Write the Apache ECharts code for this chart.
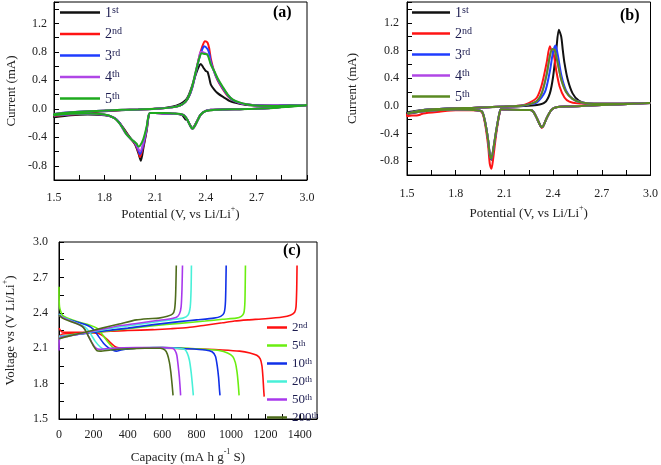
<!DOCTYPE html>
<html><head><meta charset="utf-8">
<script src="https://cdn.jsdelivr.net/npm/echarts@6/dist/echarts.min.js"></script>
<style>html,body{margin:0;padding:0;background:#fff}#c{width:661px;height:465px}</style>
</head><body><div id="c"></div>
<script>
// ---------- Panel (a): CV, cycles 1-5 ([potential V, current mA], cathodic sweep then anodic sweep)
const a1 = [[3.0,0.05],[2.9,0.04],[2.8,0.02],[2.7,0.0],[2.6,-0.005],[2.5,-0.01],[2.43,-0.02],[2.4,-0.03],[2.37,-0.08],[2.35,-0.16],[2.33,-0.25],[2.32,-0.27],[2.31,-0.24],[2.29,-0.16],[2.28,-0.15],[2.26,-0.09],[2.22,-0.07],[2.15,-0.065],[2.1,-0.06],[2.07,-0.06],[2.06,-0.12],[2.05,-0.3],[2.03,-0.55],[2.015,-0.73],[2.0,-0.62],[1.98,-0.5],[1.95,-0.4],[1.92,-0.3],[1.89,-0.2],[1.86,-0.13],[1.8,-0.09],[1.7,-0.08],[1.6,-0.09],[1.5,-0.12],
            [1.5,-0.1],[1.6,-0.07],[1.7,-0.05],[1.8,-0.035],[1.9,-0.02],[2.0,-0.01],[2.1,0.0],[2.2,0.03],[2.25,0.07],[2.28,0.12],[2.3,0.2],[2.32,0.33],[2.34,0.48],[2.36,0.6],[2.37,0.63],[2.385,0.58],[2.4,0.53],[2.41,0.52],[2.42,0.44],[2.43,0.34],[2.45,0.27],[2.47,0.22],[2.5,0.17],[2.55,0.1],[2.6,0.07],[2.66,0.05],[2.8,0.04],[2.9,0.045],[3.0,0.05]];
const a2 = [[3.0,0.05],[2.9,0.035],[2.8,0.015],[2.7,0.0],[2.6,-0.005],[2.5,-0.01],[2.43,-0.015],[2.4,-0.03],[2.37,-0.08],[2.35,-0.17],[2.33,-0.26],[2.32,-0.28],[2.31,-0.25],[2.29,-0.15],[2.27,-0.09],[2.22,-0.07],[2.15,-0.065],[2.1,-0.06],[2.07,-0.06],[2.06,-0.11],[2.05,-0.28],[2.03,-0.52],[2.01,-0.68],[2.0,-0.6],[1.98,-0.49],[1.95,-0.41],[1.92,-0.31],[1.89,-0.2],[1.86,-0.13],[1.8,-0.085],[1.7,-0.07],[1.6,-0.08],[1.5,-0.1],
            [1.5,-0.08],[1.6,-0.055],[1.7,-0.04],[1.8,-0.028],[1.9,-0.018],[2.0,-0.01],[2.1,0.0],[2.2,0.02],[2.25,0.05],[2.28,0.1],[2.3,0.17],[2.32,0.3],[2.34,0.5],[2.36,0.72],[2.38,0.88],[2.395,0.95],[2.41,0.93],[2.42,0.85],[2.43,0.7],[2.45,0.52],[2.47,0.4],[2.5,0.28],[2.53,0.18],[2.56,0.12],[2.6,0.08],[2.65,0.06],[2.7,0.05],[2.8,0.045],[2.9,0.05],[3.0,0.055]];
const a3 = [[3.0,0.05],[2.9,0.035],[2.8,0.015],[2.7,0.0],[2.6,-0.005],[2.5,-0.01],[2.43,-0.015],[2.4,-0.03],[2.37,-0.08],[2.35,-0.17],[2.33,-0.26],[2.32,-0.28],[2.31,-0.25],[2.29,-0.15],[2.27,-0.09],[2.22,-0.07],[2.15,-0.065],[2.1,-0.06],[2.07,-0.06],[2.06,-0.11],[2.05,-0.27],[2.03,-0.5],[2.01,-0.64],[2.0,-0.58],[1.98,-0.48],[1.95,-0.41],[1.92,-0.32],[1.89,-0.2],[1.86,-0.13],[1.8,-0.085],[1.7,-0.07],[1.6,-0.075],[1.5,-0.095],
            [1.5,-0.075],[1.6,-0.05],[1.7,-0.037],[1.8,-0.026],[1.9,-0.016],[2.0,-0.01],[2.1,0.0],[2.2,0.02],[2.25,0.05],[2.28,0.1],[2.3,0.17],[2.32,0.3],[2.34,0.5],[2.36,0.7],[2.38,0.84],[2.39,0.88],[2.41,0.84],[2.42,0.78],[2.43,0.66],[2.45,0.52],[2.47,0.41],[2.5,0.29],[2.53,0.19],[2.56,0.12],[2.6,0.08],[2.65,0.06],[2.7,0.05],[2.8,0.045],[2.9,0.05],[3.0,0.055]];
const a4 = [[3.0,0.05],[2.9,0.035],[2.8,0.015],[2.7,0.0],[2.6,-0.005],[2.5,-0.01],[2.43,-0.015],[2.4,-0.03],[2.37,-0.08],[2.35,-0.17],[2.33,-0.26],[2.32,-0.28],[2.31,-0.25],[2.29,-0.15],[2.27,-0.09],[2.22,-0.07],[2.15,-0.065],[2.1,-0.06],[2.07,-0.06],[2.06,-0.1],[2.05,-0.26],[2.03,-0.47],[2.01,-0.6],[2.0,-0.56],[1.98,-0.47],[1.95,-0.41],[1.92,-0.33],[1.89,-0.21],[1.86,-0.13],[1.8,-0.085],[1.7,-0.068],[1.6,-0.072],[1.5,-0.09],
            [1.5,-0.072],[1.6,-0.05],[1.7,-0.036],[1.8,-0.025],[1.9,-0.015],[2.0,-0.01],[2.1,0.0],[2.2,0.02],[2.25,0.05],[2.28,0.1],[2.3,0.18],[2.32,0.32],[2.34,0.52],[2.36,0.72],[2.37,0.8],[2.39,0.79],[2.41,0.76],[2.42,0.72],[2.43,0.63],[2.45,0.52],[2.47,0.42],[2.5,0.3],[2.53,0.2],[2.56,0.13],[2.6,0.085],[2.65,0.06],[2.7,0.048],[2.8,0.043],[2.9,0.047],[3.0,0.052]];
const a5 = [[3.0,0.05],[2.9,0.03],[2.8,0.01],[2.7,0.0],[2.6,-0.005],[2.5,-0.01],[2.45,-0.015],[2.4,-0.03],[2.37,-0.08],[2.35,-0.17],[2.33,-0.26],[2.32,-0.28],[2.31,-0.25],[2.29,-0.15],[2.27,-0.09],[2.24,-0.07],[2.2,-0.065],[2.15,-0.06],[2.1,-0.06],[2.07,-0.06],[2.06,-0.1],[2.05,-0.24],[2.03,-0.42],[2.01,-0.52],[2.0,-0.53],[1.99,-0.49],[1.96,-0.43],[1.93,-0.36],[1.91,-0.28],[1.88,-0.18],[1.85,-0.12],[1.8,-0.08],[1.7,-0.065],[1.6,-0.07],[1.5,-0.09],
            [1.5,-0.07],[1.6,-0.05],[1.7,-0.035],[1.8,-0.025],[1.9,-0.015],[2.0,-0.01],[2.1,0.0],[2.2,0.02],[2.25,0.05],[2.28,0.1],[2.3,0.18],[2.32,0.32],[2.34,0.52],[2.36,0.7],[2.375,0.78],[2.39,0.77],[2.41,0.76],[2.43,0.62],[2.45,0.53],[2.47,0.43],[2.5,0.31],[2.53,0.2],[2.56,0.13],[2.6,0.09],[2.65,0.06],[2.7,0.045],[2.8,0.04],[2.9,0.045],[3.0,0.05]];

// ---------- Panel (b): CV, cycles 1-5
const b1 = [[3.0,0.04],[2.8,0.02],[2.6,0.0],[2.5,-0.01],[2.42,-0.02],[2.39,-0.06],[2.36,-0.18],[2.34,-0.29],[2.33,-0.31],[2.32,-0.28],[2.3,-0.18],[2.28,-0.09],[2.26,-0.06],[2.2,-0.06],[2.12,-0.055],[2.08,-0.05],[2.07,-0.1],[2.05,-0.36],[2.03,-0.66],[2.02,-0.78],[2.01,-0.72],[2.0,-0.5],[1.98,-0.22],[1.96,-0.08],[1.9,-0.06],[1.8,-0.055],[1.7,-0.06],[1.6,-0.08],[1.5,-0.12],
            [1.5,-0.1],[1.6,-0.06],[1.7,-0.045],[1.8,-0.035],[1.9,-0.03],[2.0,-0.02],[2.1,-0.012],[2.2,-0.005],[2.3,0.01],[2.35,0.05],[2.38,0.18],[2.4,0.42],[2.42,0.82],[2.435,1.1],[2.45,1.0],[2.46,0.8],[2.47,0.62],[2.49,0.38],[2.52,0.18],[2.56,0.07],[2.62,0.03],[2.8,0.03],[3.0,0.04]];
const b2 = [[3.0,0.04],[2.8,0.02],[2.6,0.0],[2.5,-0.01],[2.42,-0.02],[2.39,-0.06],[2.36,-0.18],[2.34,-0.29],[2.33,-0.32],[2.32,-0.28],[2.3,-0.18],[2.28,-0.09],[2.26,-0.06],[2.2,-0.06],[2.12,-0.055],[2.08,-0.05],[2.07,-0.11],[2.05,-0.4],[2.03,-0.78],[2.02,-0.91],[2.01,-0.84],[2.0,-0.58],[1.98,-0.25],[1.96,-0.09],[1.9,-0.065],[1.8,-0.065],[1.7,-0.085],[1.6,-0.11],[1.58,-0.13],[1.56,-0.14],[1.53,-0.14],[1.5,-0.15],
            [1.5,-0.12],[1.6,-0.075],[1.7,-0.055],[1.8,-0.04],[1.9,-0.03],[2.0,-0.02],[2.1,-0.01],[2.2,0.005],[2.25,0.04],[2.3,0.12],[2.33,0.3],[2.36,0.62],[2.38,0.86],[2.39,0.8],[2.4,0.78],[2.41,0.66],[2.42,0.5],[2.44,0.28],[2.47,0.12],[2.5,0.06],[2.55,0.035],[2.65,0.03],[2.8,0.03],[3.0,0.04]];
const b3 = [[3.0,0.04],[2.8,0.02],[2.6,0.0],[2.5,-0.01],[2.42,-0.02],[2.39,-0.06],[2.36,-0.18],[2.34,-0.29],[2.33,-0.31],[2.32,-0.28],[2.3,-0.18],[2.28,-0.09],[2.26,-0.06],[2.2,-0.06],[2.12,-0.055],[2.08,-0.05],[2.07,-0.1],[2.05,-0.36],[2.03,-0.66],[2.02,-0.77],[2.01,-0.71],[2.0,-0.5],[1.98,-0.22],[1.96,-0.08],[1.9,-0.06],[1.8,-0.055],[1.7,-0.06],[1.6,-0.08],[1.5,-0.11],
            [1.5,-0.1],[1.6,-0.06],[1.7,-0.045],[1.8,-0.035],[1.9,-0.03],[2.0,-0.02],[2.1,-0.01],[2.2,0.0],[2.25,0.02],[2.3,0.05],[2.35,0.2],[2.38,0.5],[2.4,0.78],[2.415,0.87],[2.43,0.72],[2.45,0.45],[2.48,0.22],[2.52,0.1],[2.57,0.05],[2.65,0.03],[2.8,0.03],[3.0,0.04]];
const b4 = [[3.0,0.04],[2.8,0.02],[2.6,0.0],[2.5,-0.01],[2.42,-0.02],[2.39,-0.06],[2.36,-0.18],[2.34,-0.29],[2.33,-0.31],[2.32,-0.28],[2.3,-0.18],[2.28,-0.09],[2.26,-0.06],[2.2,-0.06],[2.12,-0.055],[2.08,-0.05],[2.07,-0.1],[2.05,-0.35],[2.03,-0.65],[2.02,-0.76],[2.01,-0.7],[2.0,-0.5],[1.98,-0.22],[1.96,-0.08],[1.9,-0.06],[1.8,-0.055],[1.7,-0.06],[1.6,-0.08],[1.5,-0.11],
            [1.5,-0.1],[1.6,-0.06],[1.7,-0.045],[1.8,-0.035],[1.9,-0.03],[2.0,-0.02],[2.1,-0.01],[2.2,0.0],[2.25,0.02],[2.3,0.07],[2.33,0.18],[2.36,0.45],[2.38,0.72],[2.395,0.82],[2.41,0.8],[2.43,0.6],[2.45,0.38],[2.48,0.2],[2.52,0.1],[2.57,0.05],[2.65,0.03],[2.8,0.03],[3.0,0.04]];
const b5 = [[3.0,0.04],[2.8,0.02],[2.6,0.0],[2.5,-0.01],[2.42,-0.02],[2.39,-0.06],[2.36,-0.18],[2.34,-0.29],[2.33,-0.31],[2.32,-0.28],[2.3,-0.18],[2.28,-0.09],[2.26,-0.06],[2.2,-0.06],[2.12,-0.055],[2.08,-0.05],[2.07,-0.1],[2.05,-0.35],[2.03,-0.65],[2.02,-0.76],[2.01,-0.7],[2.0,-0.5],[1.98,-0.22],[1.96,-0.08],[1.9,-0.06],[1.8,-0.055],[1.7,-0.06],[1.6,-0.08],[1.5,-0.11],
            [1.5,-0.1],[1.6,-0.06],[1.7,-0.045],[1.8,-0.035],[1.9,-0.03],[2.0,-0.02],[2.1,-0.01],[2.2,0.0],[2.25,0.02],[2.3,0.07],[2.33,0.18],[2.36,0.45],[2.38,0.72],[2.395,0.82],[2.41,0.8],[2.43,0.6],[2.45,0.38],[2.48,0.2],[2.52,0.1],[2.57,0.05],[2.65,0.03],[2.8,0.03],[3.0,0.04]];

// ---------- Panel (c): discharge / charge profiles ([capacity mAh/g, voltage V])
const c2Dis = [[0,2.27],[15,2.24],[60,2.235],[120,2.235],[180,2.232],[230,2.225],[260,2.2],[290,2.16],[320,2.12],[340,2.105],[380,2.095],[450,2.1],[600,2.1],[800,2.095],[950,2.085],[1050,2.075],[1110,2.06],[1150,2.04],[1170,2.01],[1180,1.95],[1186,1.85],[1190,1.75],[1193,1.69]];
const c2Chg = [[0,2.2],[20,2.22],[100,2.225],[200,2.235],[300,2.245],[400,2.25],[550,2.257],[650,2.265],[750,2.275],[850,2.295],[950,2.315],[1020,2.33],[1100,2.34],[1200,2.35],[1300,2.365],[1345,2.38],[1370,2.405],[1378,2.45],[1382,2.6],[1384,2.8]];
const c5Dis = [[0,2.62],[3,2.45],[20,2.38],[60,2.35],[120,2.32],[180,2.295],[220,2.27],[250,2.22],[280,2.16],[310,2.11],[330,2.095],[360,2.09],[450,2.1],[600,2.105],[750,2.1],[850,2.09],[930,2.08],[980,2.06],[1010,2.03],[1025,1.98],[1035,1.9],[1042,1.8],[1047,1.7]];
const c5Chg = [[0,2.19],[50,2.21],[150,2.225],[250,2.24],[400,2.265],[550,2.29],[700,2.31],[850,2.33],[950,2.345],[1030,2.355],[1060,2.37],[1075,2.4],[1081,2.5],[1084,2.8]];
const c10Dis = [[0,2.39],[20,2.36],[60,2.34],[120,2.315],[170,2.29],[200,2.26],[230,2.2],[260,2.14],[290,2.1],[310,2.085],[335,2.075],[360,2.085],[450,2.1],[600,2.105],[750,2.095],[850,2.085],[890,2.07],[910,2.03],[920,1.95],[928,1.85],[933,1.75],[936,1.7]];
const c10Chg = [[0,2.2],[50,2.205],[150,2.225],[250,2.245],[400,2.27],[550,2.3],[700,2.325],[800,2.34],[900,2.355],[940,2.37],[960,2.4],[968,2.5],[972,2.8]];
const c20Dis = [[0,2.39],[20,2.36],[60,2.34],[110,2.31],[150,2.28],[180,2.23],[210,2.16],[240,2.11],[265,2.09],[300,2.09],[400,2.1],[550,2.105],[680,2.1],[730,2.09],[745,2.06],[758,2.0],[768,1.9],[775,1.8],[781,1.7]];
const c20Chg = [[0,2.2],[50,2.205],[150,2.23],[250,2.255],[350,2.28],[450,2.3],[550,2.32],[650,2.34],[720,2.355],[750,2.38],[763,2.45],[768,2.6],[770,2.8]];
const c50Dis = [[0,2.38],[20,2.36],[60,2.335],[110,2.305],[140,2.28],[165,2.22],[190,2.15],[215,2.1],[235,2.09],[300,2.1],[450,2.105],[600,2.105],[660,2.1],[675,2.08],[685,2.04],[693,1.95],[700,1.85],[705,1.75],[707,1.7]];
const c50Chg = [[0,2.08],[5,2.19],[50,2.2],[150,2.23],[250,2.26],[350,2.29],[450,2.31],[550,2.33],[630,2.345],[680,2.36],[700,2.39],[710,2.45],[715,2.6],[718,2.8]];
const c200Dis = [[0,2.38],[20,2.355],[60,2.33],[100,2.31],[130,2.29],[150,2.26],[175,2.19],[200,2.12],[220,2.08],[240,2.075],[300,2.085],[400,2.095],[500,2.1],[590,2.1],[615,2.085],[630,2.05],[642,1.98],[650,1.9],[657,1.8],[663,1.7]];
const c200Chg = [[0,2.18],[50,2.2],[150,2.235],[250,2.27],[350,2.305],[450,2.34],[520,2.35],[580,2.355],[630,2.37],[660,2.39],[672,2.43],[678,2.55],[682,2.8]];

// tick labels
const cvXTicks = ['1.5','1.8','2.1','2.4','2.7','3.0'];
const cvYTicks = ['-0.8','-0.4','0.0','0.4','0.8','1.2'];
const cXTicks = ['0','200','400','600','800','1000','1200','1400'];
const cYTicks = ['1.5','1.8','2.1','2.4','2.7','3.0'];

// legend labels (ordinal, superscript)
const cycA = [['1','st'],['2','nd'],['3','rd'],['4','th'],['5','th']];
const cycC = [['2','nd'],['5','th'],['10','th'],['20','th'],['50','th'],['200','th']];

const colA = ['#111111','#ff1414','#1f3cff','#b046e6','#1eaa1e'];
const colB = ['#111111','#ff1414','#1f3cff','#b046e6','#5a8a22'];
const colC = ['#ff1010','#6aee10','#1030e8','#48f0d8','#a838ec','#4e6c1c'];

const FONT = '"Liberation Serif","DejaVu Serif",serif';
const labelMap = {};
cycA.forEach((c,i)=>{ labelMap['a'+i] = '{n|'+c[0]+'}{s|'+c[1]+'}'; labelMap['b'+i] = '{n|'+c[0]+'}{s|'+c[1]+'}'; });
cycC.forEach((c,i)=>{ labelMap['c'+i] = '{n|'+c[0]+'}{s|'+c[1]+'}'; });

const richLeg = {
  n:{fontFamily:FONT,fontSize:14,color:'#1c1c50',lineHeight:15,verticalAlign:'bottom',padding:[6,0,0,0]},
  s:{fontFamily:FONT,fontSize:10,color:'#1c1c50',lineHeight:10,verticalAlign:'top'}
};
const richLegC = {
  n:{fontFamily:FONT,fontSize:13,color:'#1c1c50',lineHeight:13,verticalAlign:'bottom',padding:[5,0,0,0]},
  s:{fontFamily:FONT,fontSize:9,color:'#1c1c50',lineHeight:9,verticalAlign:'top'}
};
const richName = {
  t:{fontFamily:FONT,fontSize:13,color:'#222',lineHeight:16,verticalAlign:'bottom'},
  sup:{fontFamily:FONT,fontSize:8,color:'#222',lineHeight:8,verticalAlign:'top'}
};

function inList(list, v, dec){ const s = v.toFixed(dec); return list.indexOf(s) >= 0 ? s : ''; }
function fixNeg(s){ return s === '-0.0' ? '0.0' : s; }

function axisBase(){
  return {
    axisLine:{show:true,onZero:false,lineStyle:{color:'#000',width:1}},
    axisTick:{show:true,inside:true,length:5,lineStyle:{color:'#000'}},
    splitLine:{show:false},
    axisLabel:{fontFamily:FONT,fontSize:12,color:'#222'},
    nameTextStyle:{fontFamily:FONT,fontSize:13,color:'#222',rich:richName}
  };
}

const xAxes = [
  Object.assign(axisBase(),{gridIndex:0,type:'value',min:1.5,max:3.0,interval:0.15,
    name:'{t|Potential (V, vs Li/Li}{sup|+}{t|)}',nameLocation:'middle',nameGap:25}),
  Object.assign(axisBase(),{gridIndex:1,type:'value',min:1.5,max:3.0,interval:0.15,
    name:'{t|Potential (V, vs Li/Li}{sup|+}{t|)}',nameLocation:'middle',nameGap:29}),
  Object.assign(axisBase(),{gridIndex:2,type:'value',min:0,max:1500,interval:100,
    name:'{t|Capacity (mA h g}{sup|-1}{t| S)}',nameLocation:'middle',nameGap:29})
];
xAxes[0].axisLabel = Object.assign({}, xAxes[0].axisLabel, {margin:12, formatter:v=>inList(cvXTicks,v,1)});
xAxes[1].axisLabel = Object.assign({}, xAxes[1].axisLabel, {margin:13, formatter:v=>inList(cvXTicks,v,1)});
xAxes[2].axisLabel = Object.assign({}, xAxes[2].axisLabel, {margin:10, formatter:v=>inList(cXTicks,v,0)});

const yAxes = [
  Object.assign(axisBase(),{gridIndex:0,type:'value',min:-1.0,max:1.5,interval:0.2,
    name:'Current (mA)',nameLocation:'middle',nameGap:36}),
  Object.assign(axisBase(),{gridIndex:1,type:'value',min:-1.0,max:1.5,interval:0.2,
    name:'Current (mA)',nameLocation:'middle',nameGap:48}),
  Object.assign(axisBase(),{gridIndex:2,type:'value',min:1.5,max:3.0,interval:0.15,
    name:'{t|Voltage vs (V Li/Li}{sup|+}{t|)}',nameLocation:'middle',nameGap:42})
];
yAxes[0].axisLabel = Object.assign({}, yAxes[0].axisLabel, {margin:7, formatter:v=>inList(cvYTicks,Number(fixNeg(v.toFixed(1))),1)});
yAxes[1].axisLabel = Object.assign({}, yAxes[1].axisLabel, {margin:8, formatter:v=>inList(cvYTicks,Number(fixNeg(v.toFixed(1))),1)});
yAxes[2].axisLabel = Object.assign({}, yAxes[2].axisLabel, {margin:11, formatter:v=>inList(cYTicks,v,1)});

const series = [];
[a1,a2,a3,a4,a5].forEach((d,i)=>series.push({name:'a'+i,type:'line',xAxisIndex:0,yAxisIndex:0,data:d,symbol:'none',smooth:0.25,
  lineStyle:{color:colA[i],width:2},itemStyle:{color:colA[i]},z:2+i}));
[b1,b2,b3,b4,b5].forEach((d,i)=>series.push({name:'b'+i,type:'line',xAxisIndex:1,yAxisIndex:1,data:d,symbol:'none',smooth:0.25,
  lineStyle:{color:colB[i],width:2},itemStyle:{color:colB[i]},z:2+i}));
[[c2Dis,c2Chg],[c5Dis,c5Chg],[c10Dis,c10Chg],[c20Dis,c20Chg],[c50Dis,c50Chg],[c200Dis,c200Chg]].forEach((pair,i)=>{
  pair.forEach(d=>series.push({name:'c'+i,type:'line',xAxisIndex:2,yAxisIndex:2,data:d,symbol:'none',smooth:0.2,
    lineStyle:{color:colC[i],width:1.6},itemStyle:{color:colC[i]},z:2+i}));
});

const legBase = {orient:'vertical',selectedMode:false,icon:'rect',itemHeight:2.5,padding:0,
  formatter:n=>labelMap[n]};

const option = {
  backgroundColor:'#fff',
  animation:false,
  grid:[
    {left:54,top:2,width:253,height:178,show:true,borderColor:'#000',borderWidth:1,backgroundColor:'transparent'},
    {left:407,top:2,width:245,height:173,show:true,borderColor:'#000',borderWidth:1,backgroundColor:'transparent'},
    {left:59,top:242,width:258,height:180,show:true,borderColor:'#000',borderWidth:1,backgroundColor:'transparent'}
  ],
  xAxis:xAxes,
  yAxis:yAxes,
  legend:[
    Object.assign({},legBase,{left:60,top:0,itemWidth:40,itemGap:1.5,textStyle:{rich:richLeg},data:['a0','a1','a2','a3','a4']}),
    Object.assign({},legBase,{left:412,top:0,itemWidth:38,itemGap:1,textStyle:{rich:richLeg},data:['b0','b1','b2','b3','b4']}),
    Object.assign({},legBase,{left:267,top:316,itemWidth:20,itemGap:0,textStyle:{rich:richLegC},data:['c0','c1','c2','c3','c4','c5']})
  ],
  graphic:[
    {type:'text',left:273,top:5,style:{text:'(a)',font:'bold 16px '+FONT,fill:'#000'}},
    {type:'text',left:620,top:8,style:{text:'(b)',font:'bold 16px '+FONT,fill:'#000'}},
    {type:'text',left:283,top:243,style:{text:'(c)',font:'bold 16px '+FONT,fill:'#000'}}
  ],
  series:series
};
const chart = echarts.init(document.getElementById('c'),null,{renderer:'canvas'});
chart.setOption(option);
</script></body></html>
